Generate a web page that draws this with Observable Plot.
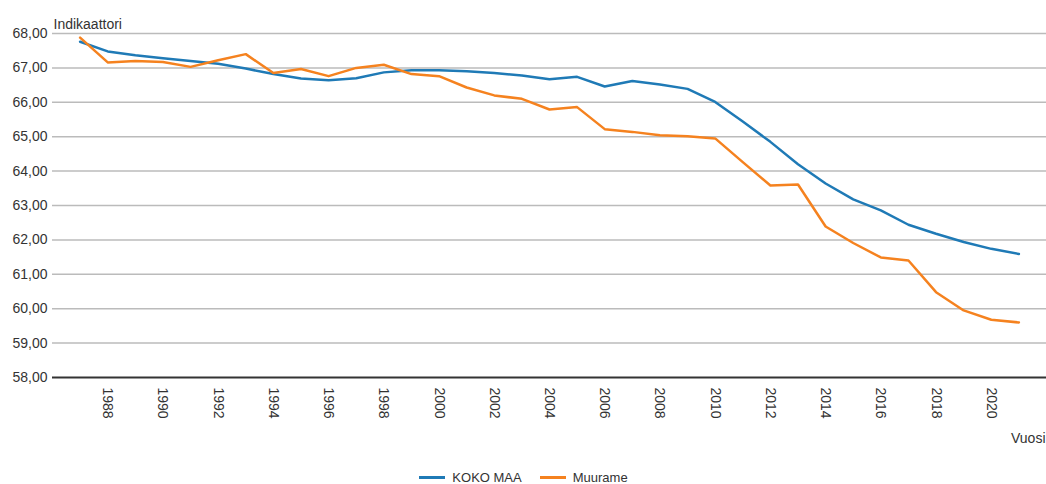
<!DOCTYPE html>
<html>
<head>
<meta charset="utf-8">
<script src="https://cdn.jsdelivr.net/npm/d3@7"></script>
<script src="https://cdn.jsdelivr.net/npm/@observablehq/plot@0.6"></script>
<style>
  body { margin: 0; background: #fff; font-family: "Liberation Sans", Arial, sans-serif; }
  #chart svg { display: block; }
  #legend { display: flex; justify-content: center; align-items: center; gap: 18px; font-size: 13px; color: #333; height: 16px; margin-top: 19px; padding-left: 1px; }
  .sw { display: inline-block; width: 26px; height: 3px; margin-right: 7px; vertical-align: middle; }
  .item { display: flex; align-items: center; }
</style>
</head>
<body>
<div id="chart"></div>
<div id="legend"></div>
<script>
const years = d3.range(1987, 2022);
const kokoMaa = [67.76, 67.48, 67.37, 67.28, 67.20, 67.12, 66.98, 66.82, 66.69, 66.64, 66.70, 66.87, 66.93, 66.93, 66.90, 66.85, 66.78, 66.67, 66.74, 66.46, 66.62, 66.52, 66.39, 66.01, 65.44, 64.85, 64.20, 63.64, 63.18, 62.86, 62.44, 62.18, 61.94, 61.74, 61.59];
const muurame = [67.88, 67.16, 67.20, 67.17, 67.03, 67.22, 67.40, 66.85, 66.97, 66.76, 67.00, 67.09, 66.82, 66.76, 66.43, 66.20, 66.10, 65.79, 65.86, 65.22, 65.14, 65.04, 65.01, 64.95, 64.26, 63.58, 63.61, 62.39, 61.91, 61.49, 61.40, 60.48, 59.95, 59.68, 59.60];
const seriesNames = ["KOKO MAA", "Muurame"];
const seriesColors = ["#1f7ab6", "#f5821f"];
const xTicks = d3.range(1988, 2021, 2);
const yTicks = d3.range(58, 69, 1);

const data = [
  ...years.map((y, i) => ({year: y, value: kokoMaa[i], series: seriesNames[0]})),
  ...years.map((y, i) => ({year: y, value: muurame[i], series: seriesNames[1]}))
];

const fmt = v => d3.format(".2f")(v).replace(".", ",");

const chart = Plot.plot({
  width: 1046,
  height: 450,
  marginLeft: 52,
  marginRight: 0,
  marginTop: 33,
  marginBottom: 73,
  style: {fontFamily: "Liberation Sans, Arial, sans-serif", fontSize: "14px", color: "#333", background: "#fff"},
  x: {domain: [1986, 2022], ticks: xTicks, tickFormat: d => String(d), label: null},
  y: {domain: [58, 68], ticks: yTicks, tickFormat: fmt, label: null},
  color: {domain: seriesNames, range: seriesColors},
  marks: [
    Plot.gridY(yTicks.filter(t => t > 58), {stroke: "#bbb", strokeOpacity: 1, strokeWidth: 1.5}),
    Plot.ruleY([58], {stroke: "#333", strokeWidth: 2}),
    Plot.axisY({ticks: yTicks, tickFormat: fmt, tickSize: 0, tickPadding: 5, fontSize: 14}),
    Plot.axisX({ticks: xTicks, tickFormat: d => String(d), tickSize: 0, tickPadding: 10, tickRotate: 90, fontSize: 14}),
    Plot.line(data, {x: "year", y: "value", stroke: "series", strokeWidth: 2.5}),
    Plot.text(["Indikaattori"], {frameAnchor: "top-left", textAnchor: "start", dx: 1, dy: -14, fontSize: 14, fill: "#333"}),
    Plot.text(["Vuosi"], {frameAnchor: "bottom-right", textAnchor: "end", dx: -1, dy: 65, fontSize: 14, fill: "#333"})
  ]
});
document.getElementById("chart").appendChild(chart);

const legend = document.getElementById("legend");
seriesNames.forEach((n, i) => {
  const it = document.createElement("span");
  it.className = "item";
  it.innerHTML = `<span class="sw" style="background:${seriesColors[i]}"></span>${n}`;
  legend.appendChild(it);
});
</script>
</body>
</html>
